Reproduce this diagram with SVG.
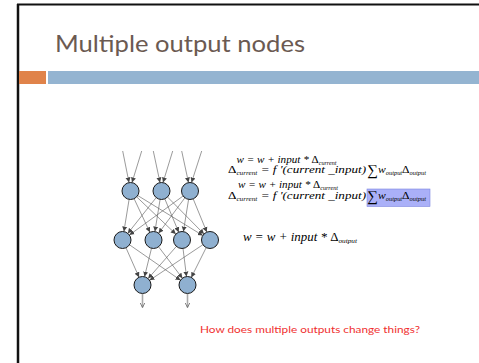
<svg xmlns="http://www.w3.org/2000/svg" width="479" height="363" viewBox="0 0 479 363">
<style>
.edge{stroke:#555;stroke-width:0.6;fill:none;marker-end:url(#ah)}
.out{stroke:#aaa;stroke-width:1.6;fill:none;marker-end:url(#ah2)}
.node{fill:#8fb0d0;stroke:#1a1a1a;stroke-width:1}
.f{font-family:"Liberation Serif","Times New Roman",serif;font-style:italic;fill:#000}
.u{font-style:normal}
.title{font-family:Lato,"Liberation Sans",sans-serif;fill:#6b5a52}
.q{font-family:Lato,"Liberation Sans",sans-serif;fill:#f03030}
</style>
<defs>
<marker id="ah" markerWidth="6" markerHeight="6" refX="5" refY="3" orient="auto" markerUnits="userSpaceOnUse"><path d="M0,0.5 L5,3 L0,5.5 z" fill="#444"/></marker>
<marker id="ah2" markerWidth="6" markerHeight="6" refX="5" refY="3" orient="auto" markerUnits="userSpaceOnUse"><path d="M0,0.5 L5,3 L0,5.5" fill="none" stroke="#666" stroke-width="0.8"/></marker>
</defs>
<rect width="479" height="363" fill="#fff"/>
<g id="frame">
<line x1="17" y1="4.5" x2="479" y2="4.5" stroke="#111" stroke-width="2"/>
<line x1="18" y1="4" x2="18" y2="363" stroke="#111" stroke-width="2.5"/>
</g>
<g id="header">
<text class="title" x="55" y="52" font-size="24" textLength="250" lengthAdjust="spacingAndGlyphs">Multiple output nodes</text>
<rect x="19" y="71" width="27" height="13" fill="#e0834a"/>
<rect x="48" y="71" width="431" height="13" fill="#94b4d1"/>
</g>
<g id="connectors">
<path class="edge" d="M122.7,151 L129,182.5"/>
<path class="edge" d="M141.7,151 L132,182.5"/>
<path class="edge" d="M153.3,151 L160,182.5"/>
<path class="edge" d="M172.7,151 L163,182.5"/>
<path class="edge" d="M181.7,151 L188.5,182.5"/>
<path class="edge" d="M201.7,151 L191.5,182.5"/>
<path class="edge" d="M129.1,199.4 L123.9,231.6"/>
<path class="edge" d="M134.1,198.7 L149.9,232.3"/>
<path class="edge" d="M136.7,196.9 L175.8,234.1"/>
<path class="edge" d="M137.7,195.5 L202.8,235.5"/>
<path class="edge" d="M156.2,197.6 L127.8,233.4"/>
<path class="edge" d="M160.1,199.4 L154.9,231.6"/>
<path class="edge" d="M164.8,198.8 L178.7,232.2"/>
<path class="edge" d="M167.5,197 L204,234"/>
<path class="edge" d="M183.1,196 L129.4,235"/>
<path class="edge" d="M184.9,197.8 L158.6,233.2"/>
<path class="edge" d="M188.6,199.4 L183.4,231.6"/>
<path class="edge" d="M193.2,198.9 L206.8,232.1"/>
<path class="edge" d="M126,247.8 L139,277.2"/>
<path class="edge" d="M129.5,244.8 L180.5,280.2"/>
<path class="edge" d="M151.5,248.3 L144.5,276.7"/>
<path class="edge" d="M158.6,246.8 L182.4,278.2"/>
<path class="edge" d="M176.4,246.4 L148.1,278.6"/>
<path class="edge" d="M183,248.4 L186.5,276.6"/>
<path class="edge" d="M202.9,244.7 L149.6,280.3"/>
<path class="edge" d="M206.2,247.6 L191.3,277.4"/>
<path class="out" d="M142.5,294 L142.5,307.5"/>
<path class="out" d="M187.5,294 L187.5,307.5"/>
</g>
<g id="t1"><circle class="node" cx="130.5" cy="191" r="8.5"/></g>
<g id="t2"><circle class="node" cx="161.5" cy="191" r="8.5"/></g>
<g id="t3"><circle class="node" cx="190" cy="191" r="8.5"/></g>
<g id="m1"><circle class="node" cx="122.5" cy="240" r="8.5"/></g>
<g id="m2"><circle class="node" cx="153.5" cy="240" r="8.5"/></g>
<g id="m3"><circle class="node" cx="182" cy="240" r="8.5"/></g>
<g id="m4"><circle class="node" cx="210" cy="240" r="8.5"/></g>
<g id="o1"><circle class="node" cx="142.5" cy="285" r="8.5"/></g>
<g id="o2"><circle class="node" cx="187.5" cy="285" r="8.5"/></g>
<g id="formulas">
<text class="f" x="236.5" y="163" font-size="10" textLength="100" lengthAdjust="spacingAndGlyphs">w = w + input * <tspan class="u">Δ</tspan><tspan font-size="5.5" dy="1.5">current</tspan></text>
<text class="f" x="228" y="173" font-size="10" textLength="138" lengthAdjust="spacingAndGlyphs"><tspan class="u">Δ</tspan><tspan font-size="5.5" dy="1.5">current</tspan><tspan dy="-1.5"> = f '(current _input)</tspan></text>
<text class="u f" x="367" y="174.5" font-size="15" style="font-style:normal">∑</text>
<text class="f" x="378" y="173" font-size="10" textLength="48" lengthAdjust="spacingAndGlyphs">w<tspan font-size="5.5" dy="1.5">output</tspan><tspan class="u" dy="-1.5">Δ</tspan><tspan font-size="5.5" dy="1.5">output</tspan></text>
<rect x="367" y="189" width="63" height="17.5" fill="#aab0f8" stroke="#7d86e0" stroke-width="0.6"/>
<text class="f" x="238" y="188" font-size="10" textLength="100" lengthAdjust="spacingAndGlyphs">w = w + input * <tspan class="u">Δ</tspan><tspan font-size="5.5" dy="1.5">current</tspan></text>
<text class="f" x="228" y="199" font-size="10" textLength="138" lengthAdjust="spacingAndGlyphs"><tspan class="u">Δ</tspan><tspan font-size="5.5" dy="1.5">current</tspan><tspan dy="-1.5"> = f '(current _input)</tspan></text>
<text class="f" x="367" y="200.5" font-size="15" style="font-style:normal">∑</text>
<text class="f" x="378" y="199" font-size="10" textLength="48" lengthAdjust="spacingAndGlyphs">w<tspan font-size="5.5" dy="1.5">output</tspan><tspan class="u" dy="-1.5">Δ</tspan><tspan font-size="5.5" dy="1.5">output</tspan></text>
<text class="f" x="243" y="241" font-size="12.5" textLength="114" lengthAdjust="spacingAndGlyphs">w = w + input * <tspan class="u">Δ</tspan><tspan font-size="7" dy="2">output</tspan></text>
</g>
<text class="q" x="200" y="333" font-size="9.5" textLength="220" lengthAdjust="spacingAndGlyphs">How does multiple outputs change things?</text>
</svg>
